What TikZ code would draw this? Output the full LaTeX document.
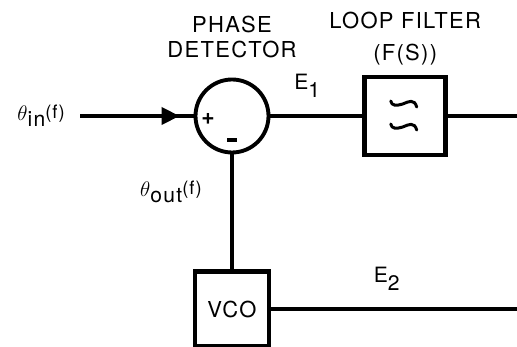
\documentclass[tikz,border=0pt]{standalone}
\usepackage{fontspec}
\setmainfont{TeX Gyre Heros}
\newfontfamily\capsfont[LetterSpace=6]{TeX Gyre Heros}
\usepackage{tikz}
\usetikzlibrary{positioning, calc, arrows.meta}
\tikzset{
    block/.style={
        rectangle,
        minimum width=1.6cm,
        minimum height=1.6cm,
        inner sep=0pt,
        draw=black,
        line width=2.6pt,
        font=\capsfont\fontsize{12.5}{14}\selectfont
    },
    filterbox/.style={block, minimum width=1.62cm, minimum height=1.56cm},
    vcobox/.style={block, minimum width=1.48cm, minimum height=1.5cm},
    summer/.style={circle, minimum size=1.46cm, inner sep=0pt, draw=black, line width=2.2pt},
    wire/.style={draw=black, line width=2.2pt},
    sig/.style={wire, -{Triangle[length=0.36cm, width=0.34cm]}, shorten >=0.28cm},
    caption/.style={font=\capsfont\fontsize{12.5}{14.2}\selectfont, align=center, inner sep=1pt},
    siglabel/.style={font=\capsfont\fontsize{12}{14}\selectfont, inner sep=1pt},
    sign/.style={font=\bfseries\fontsize{13}{14}\selectfont, inner sep=0pt},
    wavy/.style={line width=1.7pt, line cap=round}
}

\begin{document}
\begin{tikzpicture}

\useasboundingbox (0,0) rectangle (10.34,-6.94);

% Phase detector
\node[summer] (pd) at (4.64, -2.32) {};
\node[sign] (plus) at ($(pd.center)+(-0.48,-0.05)$) {+};
\node[sign] (minus) at ($(pd.center)+(0,-0.48)$) {\rule{0.19cm}{0.08cm}};
\node[caption, above=0.36cm of pd] (pdlabel) {PHASE\\DETECTOR};

% Loop filter
\node[filterbox, right=1.84cm of pd] (lf) {};
\node[caption, above=0.14cm of lf] (lflabel) {LOOP FILTER\\[4pt](F(S))};
\foreach \dy/\nm in {0.26/wa, -0.2/wb} {
    \coordinate (\nm) at ($(lf.center)+(-0.03,\dy)$);
    \draw[wavy] ($(\nm)+(-0.26,0.04)$) .. controls ($(\nm)+(-0.24,-0.06)$) and ($(\nm)+(-0.15,-0.06)$) .. ($(\nm)+(-0.02,-0.02)$)
        .. controls ($(\nm)+(0.1,0.03)$) and ($(\nm)+(0.21,0.09)$) .. ($(\nm)+(0.26,-0.08)$);
}

% VCO
\node[vcobox, below=2.30cm of pd] (vco) {VCO};

% Signals
\coordinate (in) at (1.6, -2.32);
\coordinate (fout) at (10.34, -2.32);
\coordinate (e2end) at (vco -| fout);
\node[siglabel, left=0.26cm of in] (thin) {{\fontsize{12.5}{14}\selectfont$\theta$}\raisebox{-0.12cm}{in}\raisebox{0.04cm}{\fontsize{10.5}{12}\selectfont(f)}};
\node[siglabel, anchor=east] (thout) at ($(pd.south)!0.33!(vco.north)+(-0.56,0)$) {{\fontsize{12.5}{14}\selectfont$\theta$}\raisebox{-0.12cm}{out}\raisebox{0.04cm}{\fontsize{10.5}{12}\selectfont(f)}};

\draw[wire] (in) -- (pd.west);
\draw[sig] (in) -- (pd.west);
\draw[wire] (pd.east) -- node[siglabel, pos=0.4, above=0.3cm] (e1) {E\raisebox{-0.16cm}{1}} (lf.west);
\draw[wire] (lf.east) -- (fout);
\draw[wire] (pd.south) -- (vco.north);
\draw[wire] (vco.east) -- node[siglabel, pos=0.47, above=0.3cm] (e2) {E\raisebox{-0.16cm}{2}} (e2end);

\end{tikzpicture}
\end{document}
